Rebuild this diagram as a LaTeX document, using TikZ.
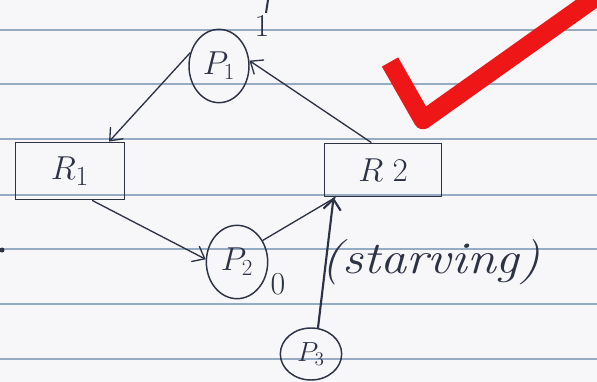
\documentclass[tikz,border=0pt]{standalone}
\usetikzlibrary{shapes.geometric,arrows.meta}
\tikzset{every picture/.style={line width=0.75pt}}
\definecolor{ink}{RGB}{45,50,68}
\definecolor{rule}{RGB}{150,172,196}
\definecolor{paper}{RGB}{247,247,249}
\definecolor{tick}{RGB}{238,22,22}

\begin{document}
\begin{tikzpicture}[x=0.75pt,y=0.75pt,yscale=-1,xscale=1,
  proc/.style={draw=ink, ellipse, line width=1.1pt, inner sep=0pt, text=ink, font=\fontsize{26}{26}\selectfont},
  res/.style={draw=ink, rectangle, line width=1.1pt, inner sep=0pt, text=ink, font=\fontsize{30}{30}\selectfont},
  edge/.style={draw=ink, line width=1pt, -{Straight Barb[length=8pt,width=13pt]}},
  hand/.style={text=ink, inner sep=0.75pt, font=\fontsize{24}{24}\selectfont}]
\useasboundingbox (0,0) rectangle (597,382);
\fill [paper] (0,0) rectangle (597,382);
\clip (0,0) rectangle (597,382);

%Ruled lines
\foreach \y in {30,84,139,195,249,304,359}
  \draw [rule, line width=1.5pt] (0,\y) -- (597,\y);

%Pen marks
\draw [ink, line width=1.5pt] (268,0) -- (266,13) ;
\fill [ink] (2,250) circle (2.5) ;

%Shape: Ellipse
\node [proc, minimum width=45pt, minimum height=55pt] (p1) at (219,66) {$P_1$};
\node [proc, minimum width=46pt, minimum height=55pt] (p2) at (237,262) {$P_2$};
\node [proc, minimum width=46pt, minimum height=39pt, font=\fontsize{22}{22}\selectfont] (p3) at (311,354) {$P_3$};
%Shape: Rectangle
\node [res, minimum width=82pt, minimum height=43pt] (r1) at (70,171) {$R_1$};
\node [res, minimum width=88pt, minimum height=40pt] (r2) at (383,170) {$R\;2$};

%Straight Lines
\draw [edge] (p1.155) -- (r1.37) ;
\draw [edge] (r2.113) -- (p1.10) ;
\draw [edge] (r1.-53) -- (p2.175) ;
\draw [draw=ink, line width=1pt] (p2.40) -- (r2.-150) ;
\draw [edge, line width=1.6pt] (p3.75) -- (r2.-151) ;

% Text Node
\node [hand] (one) at (262,26) {1};
\node [hand] (zero) at (278,284) {0};
\node [hand, anchor=west, xscale=1.15, font=\fontsize{34}{34}\selectfont\itshape] (starv) at (320,262) {(starving)};

%Red tick
\draw [tick, line width=14pt, line join=round] (390,62) -- (423,120) -- (620,-20) ;

\end{tikzpicture}
\end{document}
